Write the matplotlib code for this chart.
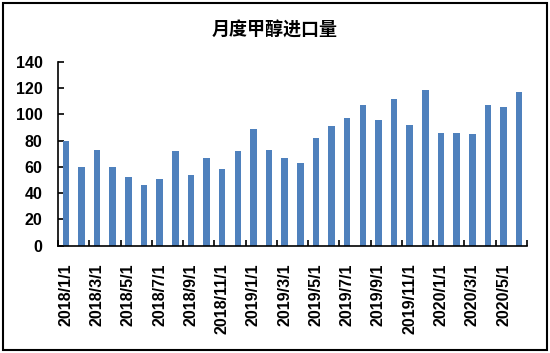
import matplotlib
matplotlib.use("Agg")
import matplotlib.pyplot as plt
from matplotlib.patches import Rectangle
import numpy as np

plt.rcParams['font.family'] = ['Noto Sans CJK SC', 'DejaVu Sans']

title = "月度甲醇进口量"
months = [f"{y}/{m}/1" for y in (2018, 2019, 2020) for m in range(1, 13)][:30]
values = [80, 60, 73, 60, 52, 46, 51, 72, 54, 67, 58, 72,
          89, 73, 67, 63, 82, 91, 97, 107, 96, 112, 92, 119,
          86, 86, 85, 107, 106, 117]
yticks = [0, 20, 40, 60, 80, 100, 120, 140]

fig = plt.figure(figsize=(5.5, 3.53), dpi=100)
W, H = 550, 353
ax = fig.add_axes([58 / W, (H - 245.5) / H, (527 - 58) / W, (245.5 - 62) / H])

x = np.arange(len(values))
ax.bar(x, values, width=0.42, color='#4F81BD', zorder=2)

ax.set_xlim(-0.5, len(values) - 0.5)
ax.set_ylim(0, 140)
ax.set_yticks(yticks)
ax.set_yticklabels([str(v) for v in yticks], fontsize=11.5, fontweight='bold',
                   family=['Liberation Sans', 'DejaVu Sans'])
ax.tick_params(axis='y', direction='in', length=4, width=1.2, pad=11)

ax.set_xticks(x[::2])
ax.set_xticklabels(months[::2], rotation=90, fontsize=11.5, fontweight='bold',
                   family=['Liberation Sans', 'DejaVu Sans'], va='top')
ax.tick_params(axis='x', which='major', length=0, pad=13)
ax.set_xticks(np.arange(-0.5, len(values), 2), minor=True)
ax.tick_params(axis='x', which='minor', direction='in', length=4, width=1.2)

for s in ['top', 'right']:
    ax.spines[s].set_visible(False)
for s in ['left', 'bottom']:
    ax.spines[s].set_linewidth(1.2)

fig.text(275 / W, 1 - 30 / H, title, ha='center', va='center',
         fontsize=13, fontweight='bold')

fig.patches.append(Rectangle((2.5 / W, 3 / H), (547 - 2.5) / W, (350 - 3) / H,
                             transform=fig.transFigure, fill=False,
                             edgecolor='black', linewidth=1.5))

fig.savefig("out.png", dpi=100)
